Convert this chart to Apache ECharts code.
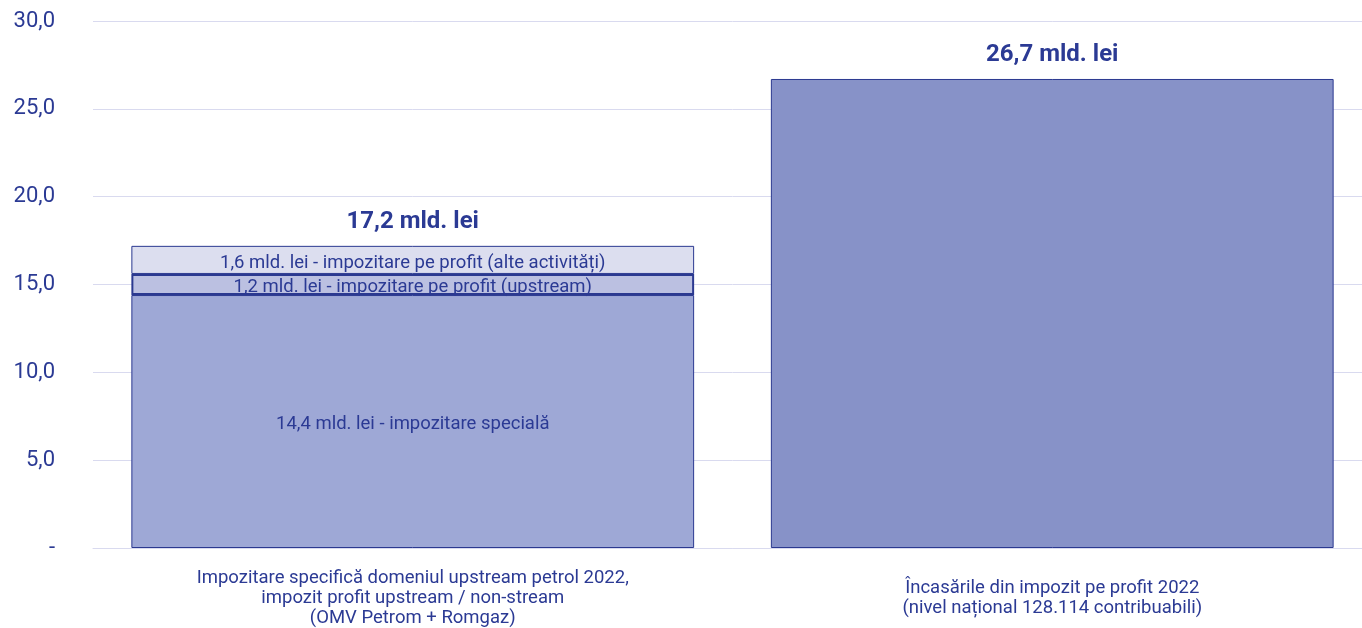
<!DOCTYPE html>
<html>
<head>
<meta charset="utf-8">
<script src="https://cdn.jsdelivr.net/npm/echarts@6/dist/echarts.min.js"></script>
<style>
  html, body { margin: 0; padding: 0; background: #fff; overflow: hidden; }
  #main { width: 1372px; height: 628px; }
</style>
</head>
<body>
<div id="main"></div>
<script>
// categories on the x axis
var categories = [
  'Impozitare specifică domeniul upstream petrol 2022,\nimpozit profit upstream / non-stream\n(OMV Petrom + Romgaz)',
  'Încasările din impozit pe profit 2022\n(nivel național 128.114 contribuabili)'
];
// values in mld. lei
var specialTax = [14.4, '-'];
var profitUpstream = [1.2, '-'];
var profitOther = [1.6, '-'];
var nationalProfit = ['-', 26.7];
var totals = [17.2, 26.7];

var segLabels = [
  '14,4 mld. lei - impozitare specială',
  '1,2 mld. lei - impozitare pe profit (upstream)',
  '1,6 mld. lei - impozitare pe profit (alte activități)'
];

var textColor = '#2b3a94';
var edge = '#2b3990';

var myChart = echarts.init(document.getElementById('main'));

function fmt(v) {
  return v === 0 ? '-' : v.toFixed(1).replace('.', ',');
}

var segLabel = function (txt) {
  return {
    show: true,
    position: 'inside',
    offset: [0, 3],
    formatter: txt,
    color: textColor,
    fontFamily: 'Roboto',
    fontSize: 18.5
  };
};

myChart.setOption({
  animation: false,
  grid: { left: 93, right: 0, top: 21, bottom: 80 },
  xAxis: {
    type: 'category',
    data: categories,
    axisLine: { show: true, lineStyle: { color: '#d9daef' } },
    axisTick: { show: false },
    axisLabel: {
      color: textColor,
      fontFamily: 'Roboto',
      fontSize: 18.5,
      lineHeight: 20,
      margin: 50,
      verticalAlign: 'middle',
      interval: 0
    }
  },
  yAxis: {
    type: 'value',
    min: 0,
    max: 30,
    interval: 5,
    axisLine: { show: false },
    axisTick: { show: false },
    splitLine: { lineStyle: { color: '#d9daef', width: 1 } },
    axisLabel: {
      color: textColor,
      fontFamily: 'Roboto',
      fontSize: 22,
      margin: 38,
      formatter: fmt
    }
  },
  series: [
    {
      name: 'special',
      type: 'bar',
      stack: 'total',
      barWidth: '88%',
      data: specialTax,
      itemStyle: { color: '#9ea8d6', borderColor: edge, borderWidth: 1 },
      label: segLabel(segLabels[0])
    },
    {
      name: 'upstream',
      type: 'bar',
      stack: 'total',
      data: profitUpstream,
      itemStyle: { color: '#bbc0e1', borderColor: edge, borderWidth: 2 },
      label: segLabel(segLabels[1])
    },
    {
      name: 'alte',
      type: 'bar',
      stack: 'total',
      data: profitOther,
      itemStyle: { color: '#dcdeef', borderColor: edge, borderWidth: 1 },
      label: segLabel(segLabels[2])
    },
    {
      name: 'national',
      type: 'bar',
      stack: 'total',
      data: nationalProfit,
      itemStyle: { color: '#8792c8', borderColor: edge, borderWidth: 1 }
    },
    {
      name: 'total',
      type: 'scatter',
      symbolSize: 0,
      data: totals,
      itemStyle: { opacity: 1 },
      label: {
        show: true,
        position: 'top',
        distance: 12,
        formatter: function (p) { return fmt(p.value) + ' mld. lei'; },
        color: textColor,
        fontFamily: 'Roboto',
        fontWeight: 'bold',
        fontSize: 24
      }
    }
  ]
});
</script>
</body>
</html>
